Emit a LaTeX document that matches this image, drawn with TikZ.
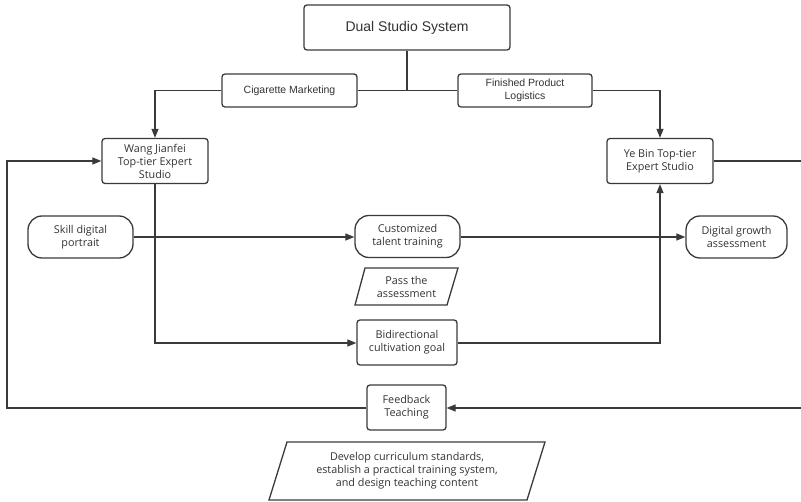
\documentclass[tikz,border=0pt]{standalone}
\usepackage{fontspec}
\setmainfont{Open Sans}
\newfontfamily\arialf{Liberation Sans}
\usetikzlibrary{arrows.meta}
\definecolor{ink}{RGB}{58,58,58}
\definecolor{txt}{RGB}{50,50,50}
\tikzset{
  base/.style={draw=ink, line width=1.3pt, text=txt, align=center, inner sep=0pt,
    font=\fontsize{10.8}{13}\selectfont},
  box/.style={base, rounded corners=3pt},
  pill/.style={base, rounded corners=14pt},
  topbox/.style={box, font=\arialf\fontsize{10.5}{13}\selectfont},
  conn/.style={draw=ink, line width=1.2pt},
  arr/.style={conn, -{Triangle[length=9pt,width=7pt]}},
  slanted/.style={draw=ink, line width=1.3pt, line join=miter}
}
\begin{document}
\begin{tikzpicture}[x=1pt,y=-1pt]
\useasboundingbox (0,0) rectangle (801,502);

% header and the two branches
\node[box, minimum width=206pt, minimum height=45pt, font=\arialf\fontsize{14}{16}\selectfont] (dual) at (407,27.5) {Dual Studio System};
\node[topbox, minimum width=135pt, minimum height=33pt] (cig) at (289.5,90.5) {Cigarette Marketing};
\node[topbox, minimum width=134pt, minimum height=33pt] (fin) at (525,90.5) {Finished Product\\Logistics};

% the two studios
\node[box, minimum width=106pt, minimum height=45pt] (wang) at (155,161) {Wang Jianfei\\Top-tier Expert\\Studio};
\node[box, minimum width=106pt, minimum height=45pt] (ye) at (660,161) {Ye Bin Top-tier\\Expert Studio};

% middle row
\node[pill, minimum width=105pt, minimum height=42pt] (skill) at (80.5,237) {Skill digital\\portrait};
\node[pill, minimum width=105pt, minimum height=42pt] (cust) at (407.5,236.5) {Customized\\talent training};
\node[pill, minimum width=101pt, minimum height=42pt] (dig) at (736.5,237) {Digital growth\\assessment};

% pass condition
\draw[slanted] (365,268) -- (458,268) -- (447,305) -- (355,305) -- cycle;
\node[base, draw=none] (pass) at (406.5,286.5) {Pass the\\assessment};

\node[box, minimum width=100pt, minimum height=45pt] (bidir) at (407,342.5) {Bidirectional\\cultivation goal};
\node[box, minimum width=79pt, minimum height=45pt] (fb) at (406.5,407.5) {Feedback\\Teaching};

% curriculum note
\draw[slanted] (287,442) -- (545,442) -- (527,500) -- (269,500) -- cycle;
\node[base, draw=none] (dev) at (407,471) {Develop curriculum standards,\\establish a practical training system,\\and design teaching content};

% loop ends at the picture border
\coordinate (rtop) at (801,161);
\coordinate (rbot) at (801,408);
\coordinate (lbot) at (7,408);

% connectors
\draw[conn] (dual.south) -- (dual.south |- cig.east);
\draw[conn] (cig.east) -- (fin.west);
\draw[arr] (cig.west) -| (wang.north);
\draw[arr] (fin.east) -| (ye.north);
\draw[arr] (skill.east) -- (cust.west |- skill.east);
\draw[arr] (cust.east |- dig.west) -- (dig.west);
\draw[arr] (wang.south) |- (bidir.west |- 0,343);
\draw[arr] (bidir.east |- 0,343) -| (ye.south);
\draw[conn] (ye.east) -- (rtop);
\draw[arr] (rbot) -- (fb.east |- rbot);
\draw[arr] (fb.west |- lbot) -- (lbot) |- (wang.west);
\end{tikzpicture}
\end{document}
